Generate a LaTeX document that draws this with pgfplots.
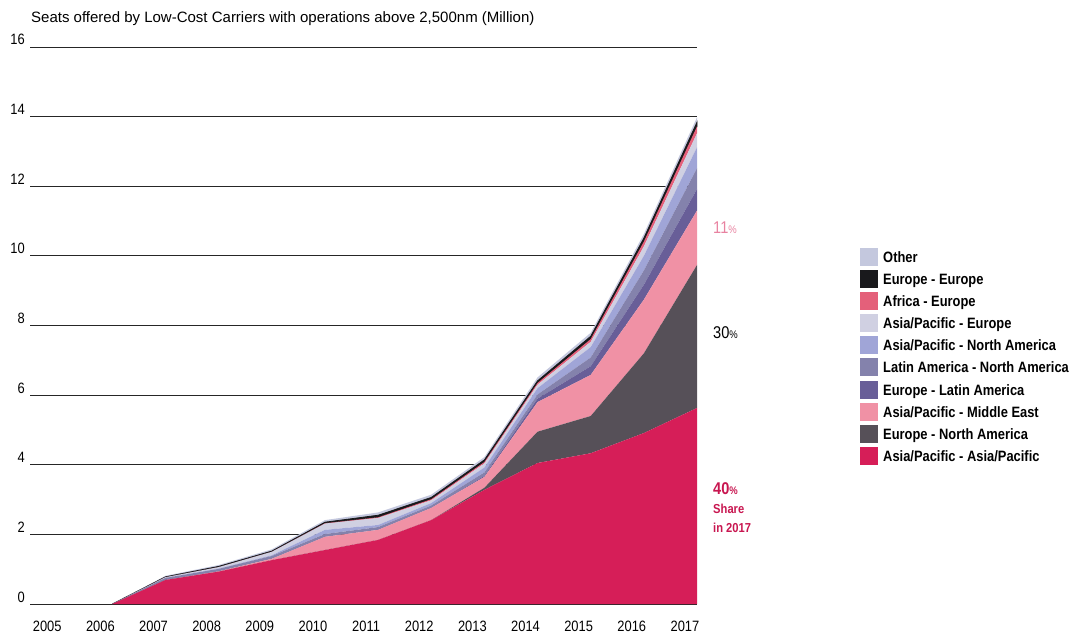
\documentclass[border=0pt]{standalone}
\usepackage{pgfplots}
\pgfplotsset{compat=1.18}
\usepackage{pgfplotstable}
\usepackage{fontspec}
\setmainfont[FakeStretch=0.86]{Liberation Sans}
\newfontfamily\titlefont{Liberation Sans}

\definecolor{cAPAP}{RGB}{214,30,88}
\definecolor{cEUNA}{RGB}{86,80,88}
\definecolor{cAPME}{RGB}{240,145,165}
\definecolor{cEULA}{RGB}{104,94,152}
\definecolor{cLANA}{RGB}{132,130,172}
\definecolor{cAPNA}{RGB}{160,165,215}
\definecolor{cAPEU}{RGB}{208,208,226}
\definecolor{cAFEU}{RGB}{228,96,122}
\definecolor{cEUEU}{RGB}{25,25,28}
\definecolor{cOTH}{RGB}{196,200,222}
\definecolor{cPink}{RGB}{232,130,160}
\definecolor{cCrim}{RGB}{200,22,80}

\pgfplotstableread{
year apap eurna apme eurla lana apna apeur afeur eueu other
2006 0    0    0    0    0    0    0    0    0    0
2007 0.69 0    0    0    0.06 0    0.02 0    0.01 0.03
2008 0.93 0    0.01 0    0.07 0.01 0.04 0    0.02 0.04
2009 1.26 0    0.04 0    0.08 0.02 0.10 0    0.02 0.05
2010 1.55 0    0.38 0    0.08 0.12 0.18 0.01 0.03 0.06
2011 1.84 0    0.29 0    0.08 0.06 0.20 0.02 0.06 0.08
2012 2.41 0    0.35 0    0.07 0.07 0.08 0.03 0.05 0.08
2013 3.28 0.06 0.31 0.03 0.10 0.14 0.12 0.04 0.06 0.08
2014 4.05 0.90 0.85 0.10 0.12 0.18 0.10 0.05 0.06 0.10
2015 4.33 1.07 1.18 0.25 0.25 0.30 0.15 0.08 0.08 0.10
2016 4.91 2.29 1.54 0.43 0.41 0.42 0.27 0.14 0.10 0.12
2017 5.63 4.11 1.56 0.62 0.60 0.60 0.40 0.20 0.12 0.14
}\datatable

\begin{document}
\begin{tikzpicture}[x=1pt,y=1pt]
\useasboundingbox (0,0) rectangle (1075,634);
\begin{axis}[
  at={(30pt,30pt)}, anchor=south west,
  scale only axis, width=667pt, height=557pt,
  xmin=2004.45, xmax=2017, ymin=0, ymax=16,
  stack plots=y,
  axis line style={draw=none},
  major tick length=0pt,
  ymajorgrids, grid style={black!85, line width=0.9pt},
  ytick={0,2,...,16},
  xtick={2005,...,2017},
  xticklabels={2005,2006,2007,2008,2009,2010,2011,2012,2013,2014,2015,2016,2017},
  /pgf/number format/assume math mode=true,
  tick label style={font=\fontsize{15}{18}\selectfont},
  yticklabel style={anchor=base east, inner sep=0pt, xshift=-5pt, yshift=2pt},
  xticklabel style={anchor=base, inner sep=0pt, yshift=-27pt, xshift=-12pt},
  clip=false,
]
\addplot[fill=cAPAP, draw=none] table[x=year,y=apap] {\datatable} \closedcycle;
\addplot[fill=cEUNA, draw=none] table[x=year,y=eurna] {\datatable} \closedcycle;
\addplot[fill=cAPME, draw=none] table[x=year,y=apme] {\datatable} \closedcycle;
\addplot[fill=cEULA, draw=none] table[x=year,y=eurla] {\datatable} \closedcycle;
\addplot[fill=cLANA, draw=none] table[x=year,y=lana] {\datatable} \closedcycle;
\addplot[fill=cAPNA, draw=none] table[x=year,y=apna] {\datatable} \closedcycle;
\addplot[fill=cAPEU, draw=none] table[x=year,y=apeur] {\datatable} \closedcycle;
\addplot[fill=cAFEU, draw=none] table[x=year,y=afeur] {\datatable} \closedcycle;
\addplot[fill=cEUEU, draw=cEUEU, line width=0.8pt] table[x=year,y=eueu] {\datatable} \closedcycle;
\addplot[fill=cOTH, draw=none] table[x=year,y=other] {\datatable} \closedcycle;
\end{axis}
% title
\node[anchor=base west, inner sep=0pt, font=\titlefont\fontsize{15}{18}\selectfont] at (31,611)
  {Seats offered by Low-Cost Carriers with operations above 2,500nm (Million)};
% share labels
\node[anchor=base west, inner sep=0pt, text=cPink] at (713,400)
  {\fontsize{17}{20}\selectfont 11\fontsize{11}{13}\selectfont\%};
\node[anchor=base west, inner sep=0pt, text=black] at (713,295)
  {\fontsize{17}{20}\selectfont 30\fontsize{11}{13}\selectfont\%};
\node[anchor=base west, inner sep=0pt, text=cCrim] at (713,139)
  {\bfseries\fontsize{17}{20}\selectfont 40\fontsize{11}{13}\selectfont\%};
\node[anchor=base west, inner sep=0pt, text=cCrim, font=\bfseries\fontsize{13}{15}\selectfont] at (713,120) {Share};
\node[anchor=base west, inner sep=0pt, text=cCrim, font=\bfseries\fontsize{13}{15}\selectfont] at (713,101) {in 2017};
% legend
\foreach \c/\t [count=\i from 0] in {cOTH/Other, cEUEU/Europe - Europe, cAFEU/Africa - Europe, cAPEU/Asia\slash Pacific - Europe, cAPNA/Asia\slash Pacific - North America, cLANA/Latin America - North America, cEULA/Europe - Latin America, cAPME/Asia\slash Pacific - Middle East, cEUNA/Europe - North America, cAPAP/Asia\slash Pacific - Asia\slash Pacific}{
  \pgfmathsetmacro{\yc}{634-257-22.1*\i}
  \fill[\c] (860,\yc-9) rectangle (878,\yc+9);
  \node[anchor=base west, inner sep=0pt, font=\bfseries\fontsize{15}{18}\selectfont] at (883,\yc-5.5) {\t};
}
\end{tikzpicture}
\end{document}
